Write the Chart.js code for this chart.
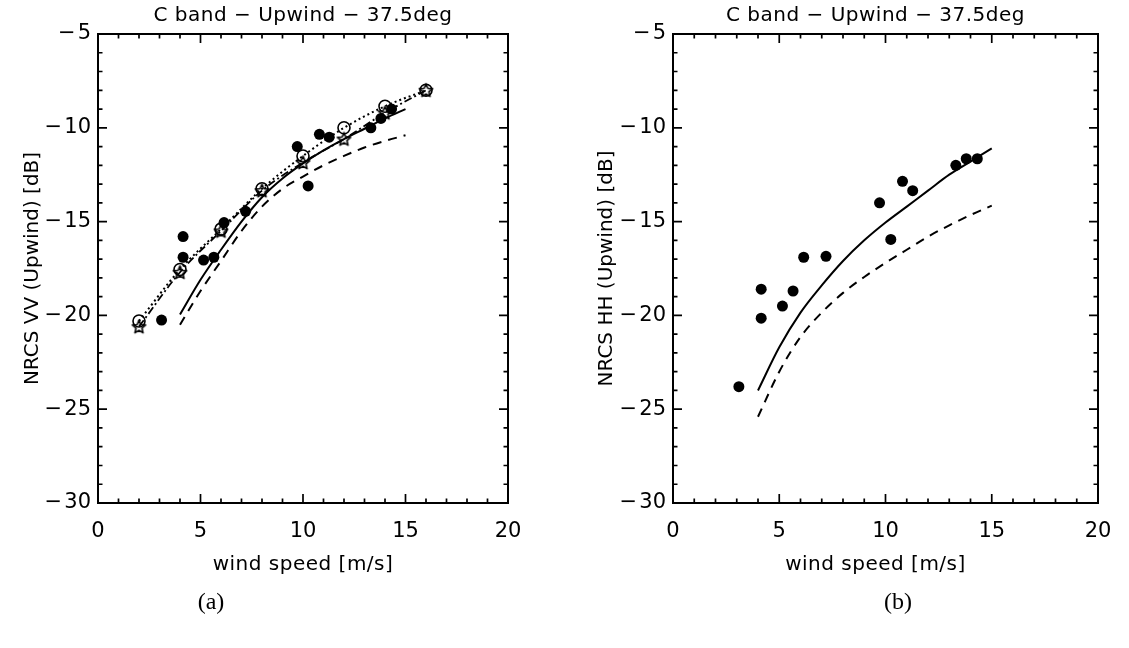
<!DOCTYPE html>
<html><head><meta charset="utf-8">
<script src="https://cdn.jsdelivr.net/npm/chart.js@4.4.1/dist/chart.umd.min.js"></script>
<style>
html,body{margin:0;padding:0;background:#fff;}
#wrap{position:relative;width:1129px;height:648px;overflow:hidden;background:#fff}
.pane{position:absolute;top:0}
#pa{left:0;width:565px;height:648px}
#pb{left:565px;width:564px;height:648px}
.cap{position:absolute;font-family:"Liberation Serif","Times New Roman",serif;font-size:24px;color:#000;line-height:24px;transform:translate(-50%,-50%);white-space:nowrap}
</style></head>
<body><div id="wrap">
<div class="pane" id="pa"><canvas id="ca" width="565" height="648"></canvas></div>
<div class="pane" id="pb"><canvas id="cb" width="564" height="648"></canvas></div>
<div class="cap" id="capA" style="left:211px;top:601px">(a)</div>
<div class="cap" id="capB" style="left:898px;top:601px">(b)</div>
</div>
<script>
// ---------------- data ----------------
const panelTitle = 'C band \u2212 Upwind \u2212 37.5deg';
const xTitle = 'wind speed [m/s]';
const yTitleVV = 'NRCS VV (Upwind) [dB]';
const yTitleHH = 'NRCS HH (Upwind) [dB]';

const xTicks = [0, 5, 10, 15, 20];
const yTicks = [-30, -25, -20, -15, -10, -5];

// measured points (shared wind speeds)
const windSpeed = [3.1, 4.15, 4.15, 5.15, 5.65, 6.15, 7.2, 9.72, 10.25, 10.8, 11.28, 13.31, 13.8, 14.32];
const nrcsVVObs = [-20.25, -15.8, -16.9, -17.05, -16.9, -15.05, -14.45, -11.0, -13.1, -10.35, -10.5, -10.0, -9.5, -9.0];
const nrcsHHObs = [-23.8, -18.6, -20.15, -19.5, -18.7, -16.9, -16.85, -14.0, -15.95, -12.85, -13.35, -12.0, -11.65, -11.65];

// model curves
const modelWind = [4, 5, 6, 7, 8, 9, 10, 11, 12, 13, 14, 15];
const vvSolid  = [-19.95, -18.1, -16.5, -15.0, -13.7, -12.7, -11.9, -11.2, -10.6, -10.05, -9.5, -9.0];
const vvDashed = [-20.5, -18.7, -17.1, -15.5, -14.2, -13.25, -12.6, -12.0, -11.5, -11.05, -10.7, -10.4];
const hhSolid  = [-24.0, -21.7, -19.85, -18.4, -17.1, -16.0, -15.05, -14.2, -13.35, -12.5, -11.8, -11.1];
const hhDashed = [-25.4, -23.0, -21.15, -19.85, -18.8, -17.95, -17.2, -16.5, -15.8, -15.2, -14.65, -14.15];

// simulated (marker) series
const simWind = [2, 4, 6, 8, 10, 12, 14, 16];
const vvSimCircle = [-20.3, -17.55, -15.4, -13.25, -11.5, -10.0, -8.85, -8.0];
const vvSimStar   = [-20.6, -17.7, -15.5, -13.35, -11.85, -10.6, -9.2, -8.0];

// ---------------- helpers ----------------
const pts = (xs, ys) => xs.map((v, i) => ({x: v, y: ys[i]}));
const FONT = '"DejaVu Sans", "Liberation Sans", sans-serif';

function makeStar(size, lw) {
  const c = document.createElement('canvas');
  c.width = c.height = size;
  const g = c.getContext('2d');
  const cx = size / 2, cy = size / 2 + 0.5, R = size / 2 - lw, r = R * 0.45;
  g.beginPath();
  for (let i = 0; i < 10; i++) {
    const a = -Math.PI / 2 + i * Math.PI / 5;
    const rr = i % 2 ? r : R;
    g.lineTo(cx + rr * Math.cos(a), cy + rr * Math.sin(a));
  }
  g.closePath();
  g.lineWidth = lw; g.strokeStyle = '#000'; g.lineJoin = 'round';
  g.stroke();
  return c;
}
const starImg = makeStar(17, 1.6);

const framePlugin = {
  id: 'frame',
  afterDatasetsDraw(chart, args, o) {
    const {ctx, chartArea: {left, right, top, bottom}, scales: {x, y}} = chart;
    ctx.save();
    ctx.strokeStyle = '#000';
    ctx.lineWidth = 2;
    ctx.strokeRect(left, top, right - left, bottom - top);
    ctx.lineWidth = 1.7;
    ctx.beginPath();
    for (let v = x.min; v <= x.max; v += 1) {
      const p = x.getPixelForValue(v);
      const L = v % 5 === 0 ? 9 : 4.5;
      ctx.moveTo(p, bottom); ctx.lineTo(p, bottom - L);
      ctx.moveTo(p, top); ctx.lineTo(p, top + L);
    }
    for (let v = y.min; v <= y.max; v += 1) {
      const p = y.getPixelForValue(v);
      const L = v % 5 === 0 ? 9 : 4.5;
      ctx.moveTo(left, p); ctx.lineTo(left + L, p);
      ctx.moveTo(right, p); ctx.lineTo(right - L, p);
    }
    ctx.stroke();
    // texts
    const cx = (left + right) / 2 + (o.textShift || 0);
    ctx.fillStyle = '#000';
    ctx.textAlign = 'center';
    ctx.textBaseline = 'alphabetic';
    ctx.font = '20px ' + FONT;
    ctx.letterSpacing = '0.5px';
    ctx.fillText(o.title, cx, 21);
    ctx.fillText(o.xTitle, cx, 570);
    ctx.letterSpacing = '0px';
    ctx.translate(o.yTitleX, (top + bottom) / 2);
    ctx.rotate(-Math.PI / 2);
    ctx.textBaseline = 'middle';
    ctx.fillText(o.yTitle, 0, 0);
    ctx.restore();
  }
};

function makeChart(canvasId, datasets, leftW, padRight, titles) {
  return new Chart(document.getElementById(canvasId), {
    type: 'scatter',
    data: {datasets},
    plugins: [framePlugin],
    options: {
      responsive: false, animation: false, devicePixelRatio: 1,
      layout: {padding: {left: 0, right: padRight, top: 34, bottom: 0}},
      plugins: {legend: {display: false}, tooltip: {enabled: false}, frame: titles},
      elements: {line: {tension: 0, cubicInterpolationMode: 'monotone'}},
      scales: {
        x: {
          type: 'linear', min: 0, max: 20,
          afterBuildTicks: s => { s.ticks = xTicks.map(v => ({value: v})); },
          afterFit: s => { s.height = 145; },
          grid: {display: false, drawTicks: false}, border: {display: false},
          ticks: {font: {family: FONT, size: 21}, color: '#000', padding: 16, maxRotation: 0, autoSkip: false,
                  callback: v => String(v)}
        },
        y: {
          type: 'linear', min: -30, max: -5,
          afterBuildTicks: s => { s.ticks = yTicks.map(v => ({value: v})); },
          afterFit: s => { s.width = leftW; },
          grid: {display: false, drawTicks: false}, border: {display: false},
          ticks: {font: {family: FONT, size: 21}, color: '#000', padding: 7, autoSkip: false,
                  callback: v => (v < 0 ? '\u2212\u200A' + Math.abs(v) : String(v))}
        }
      }
    }
  });
}

const dotStyle = {showLine: false, pointRadius: 5.5, pointBackgroundColor: '#000', pointBorderColor: '#000', pointBorderWidth: 0};
const lineStyle = {showLine: true, pointRadius: 0, borderColor: '#000', borderWidth: 2, fill: false};

makeChart('ca', [
  Object.assign({label: 'VV observed', data: pts(windSpeed, nrcsVVObs)}, dotStyle),
  Object.assign({label: 'VV model', data: pts(modelWind, vvSolid)}, lineStyle),
  Object.assign({label: 'VV model 2', data: pts(modelWind, vvDashed), borderDash: [9, 7]}, lineStyle),
  {label: 'sim circle', data: pts(simWind, vvSimCircle), showLine: true, borderColor: '#000', borderWidth: 2,
   borderDash: [2, 3], pointStyle: 'circle', pointRadius: 6, pointBorderWidth: 1.6,
   pointBorderColor: '#000', pointBackgroundColor: 'rgba(0,0,0,0)'},
  {label: 'sim star', data: pts(simWind, vvSimStar), showLine: true, borderColor: '#000', borderWidth: 1.8,
   borderDash: [8, 3, 2, 3], pointStyle: starImg, pointRadius: 8}
], 98, 57, {title: panelTitle, xTitle: xTitle, yTitle: yTitleVV, yTitleX: 33, textShift: 0});

makeChart('cb', [
  Object.assign({label: 'HH observed', data: pts(windSpeed, nrcsHHObs)}, dotStyle),
  Object.assign({label: 'HH model', data: pts(modelWind, hhSolid)}, lineStyle),
  Object.assign({label: 'HH model 2', data: pts(modelWind, hhDashed), borderDash: [9, 7]}, lineStyle)
], 108, 31, {title: panelTitle, xTitle: xTitle, yTitle: yTitleHH, yTitleX: 42, textShift: -10});
</script>
</body></html>
